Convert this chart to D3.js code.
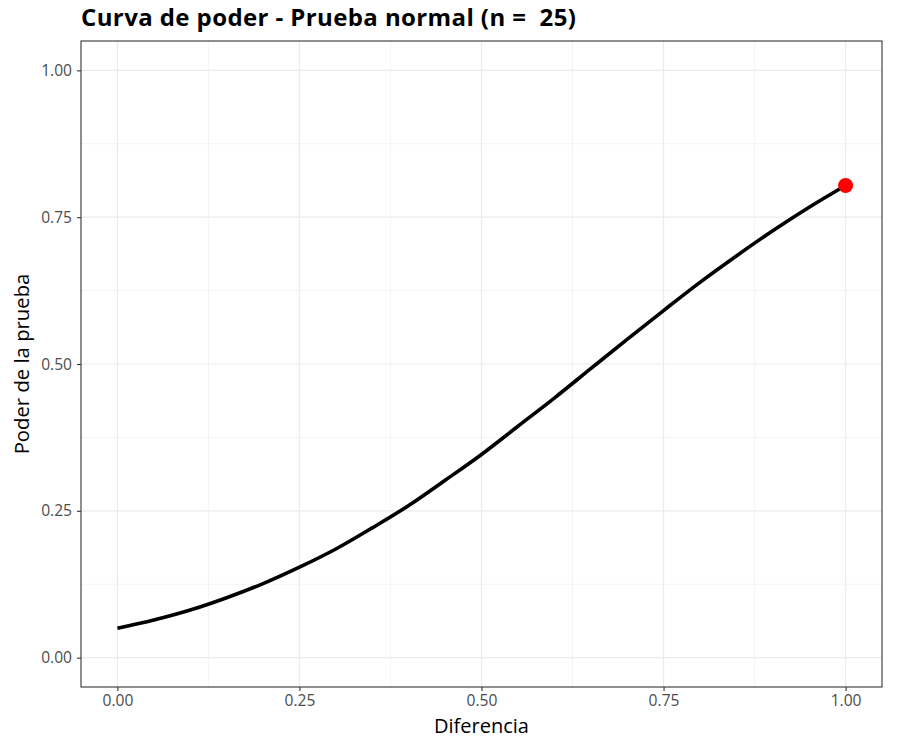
<!DOCTYPE html>
<html>
<head>
<meta charset="utf-8">
<script src="https://cdn.jsdelivr.net/npm/d3@7"></script>
<style>
  body { margin: 0; background: #fff; }
  text { font-family: "Open Sans", "Noto Sans", sans-serif; }
</style>
</head>
<body>
<script>
// values
var diferencia = [0, 0.05, 0.10, 0.15, 0.20, 0.25, 0.30, 0.35, 0.40, 0.45, 0.50,
                  0.55, 0.60, 0.65, 0.70, 0.75, 0.80, 0.85, 0.90, 0.95, 1.00];
var poder = [0.050, 0.064, 0.081, 0.102, 0.126, 0.154, 0.185, 0.221, 0.259, 0.302, 0.346,
             0.394, 0.442, 0.492, 0.542, 0.591, 0.639, 0.684, 0.727, 0.767, 0.804];
var punto = {x: 1.00, y: 0.804};
var xTicks = [0, 0.25, 0.5, 0.75, 1];
var yTicks = [0, 0.25, 0.5, 0.75, 1];
var xMinor = [0.125, 0.375, 0.625, 0.875];
var yMinor = [0.125, 0.375, 0.625, 0.875];

var W = 905, H = 742;
var panel = {left: 81, right: 882, top: 41, bottom: 687};

var svg = d3.select("body").append("svg")
    .attr("width", W)
    .attr("height", H);

// ggplot expands 5% each side
var x = d3.scaleLinear().domain([-0.05, 1.05]).range([panel.left, panel.right]);
var y = d3.scaleLinear().domain([-0.05, 1.05]).range([panel.bottom, panel.top]);

var grid = svg.append("g");

grid.selectAll(".xminor").data(xMinor).enter().append("line")
    .attr("x1", function(d){ return x(d); }).attr("x2", function(d){ return x(d); })
    .attr("y1", panel.top).attr("y2", panel.bottom)
    .attr("stroke", "#EBEBEB").attr("stroke-width", 0.6);
grid.selectAll(".yminor").data(yMinor).enter().append("line")
    .attr("y1", function(d){ return y(d); }).attr("y2", function(d){ return y(d); })
    .attr("x1", panel.left).attr("x2", panel.right)
    .attr("stroke", "#EBEBEB").attr("stroke-width", 0.6);
grid.selectAll(".xmajor").data(xTicks).enter().append("line")
    .attr("x1", function(d){ return x(d); }).attr("x2", function(d){ return x(d); })
    .attr("y1", panel.top).attr("y2", panel.bottom)
    .attr("stroke", "#EBEBEB").attr("stroke-width", 1.2);
grid.selectAll(".ymajor").data(yTicks).enter().append("line")
    .attr("y1", function(d){ return y(d); }).attr("y2", function(d){ return y(d); })
    .attr("x1", panel.left).attr("x2", panel.right)
    .attr("stroke", "#EBEBEB").attr("stroke-width", 1.2);

// curve
var line = d3.line()
    .x(function(d, i){ return x(diferencia[i]); })
    .y(function(d){ return y(d); })
    .curve(d3.curveMonotoneX);

svg.append("path")
    .datum(poder)
    .attr("d", line)
    .attr("fill", "none")
    .attr("stroke", "#000")
    .attr("stroke-width", 3.6);

svg.append("circle")
    .attr("cx", x(punto.x))
    .attr("cy", y(punto.y))
    .attr("r", 7.5)
    .attr("fill", "#FF0000");

// panel border
svg.append("rect")
    .attr("x", panel.left).attr("y", panel.top)
    .attr("width", panel.right - panel.left)
    .attr("height", panel.bottom - panel.top)
    .attr("fill", "none")
    .attr("stroke", "#333333")
    .attr("stroke-width", 1.1);

// axes
var fmt = d3.format(".2f");
var xAxis = svg.append("g")
    .attr("transform", "translate(0," + panel.bottom + ")")
    .call(d3.axisBottom(x).tickValues(xTicks).tickFormat(fmt).tickSize(4).tickPadding(4));
var yAxis = svg.append("g")
    .attr("transform", "translate(" + panel.left + ",0)")
    .call(d3.axisLeft(y).tickValues(yTicks).tickFormat(fmt).tickSize(4).tickPadding(5));

[xAxis, yAxis].forEach(function(a){
    a.select(".domain").remove();
    a.selectAll(".tick line").attr("stroke", "#333333").attr("stroke-width", 1.1);
    a.selectAll(".tick text")
        .attr("fill", "#4D4D4D")
        .style("font-size", "15.6px")
        .style("font-family", "'Open Sans', 'Noto Sans', sans-serif");
});

// titles
svg.append("text")
    .attr("x", 81).attr("y", 26)
    .style("font-size", "24px")
    .style("font-weight", "bold")
    .style("letter-spacing", "0.4px")
    .style("white-space", "pre")
    .attr("fill", "#000")
    .text("Curva de poder - Prueba normal (n =  25)");

svg.append("text")
    .attr("x", (panel.left + panel.right) / 2).attr("y", 733)
    .attr("text-anchor", "middle")
    .style("font-size", "20px")
    .attr("fill", "#000")
    .text("Diferencia");

svg.append("text")
    .attr("transform", "translate(29," + ((panel.top + panel.bottom) / 2) + ") rotate(-90)")
    .attr("text-anchor", "middle")
    .style("font-size", "20.3px")
    .attr("fill", "#000")
    .text("Poder de la prueba");
</script>
</body>
</html>
